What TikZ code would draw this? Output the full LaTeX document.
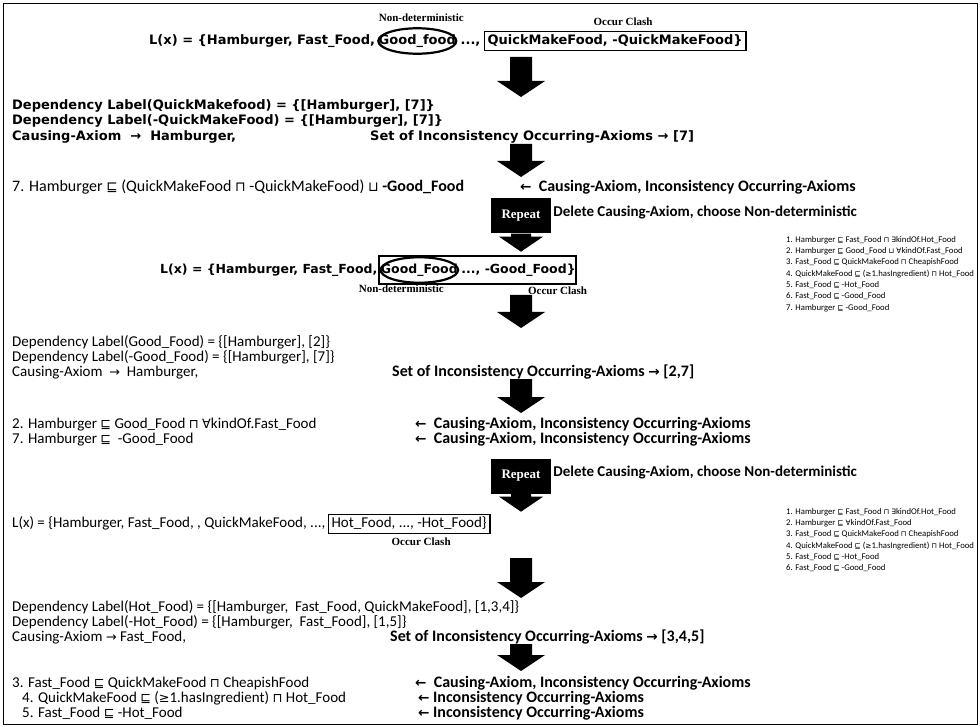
\documentclass[tikz,border=0pt]{standalone}
\usepackage{fontspec}
\setmainfont{Liberation Serif}
\newfontfamily\wfam{DejaVu Sans}
\newfontfamily\nfam{Carlito}
\newfontfamily\dvfam[Scale=0.85]{DejaVu Sans}
\usetikzlibrary{positioning}
\usetikzlibrary{shapes.geometric}
\usetikzlibrary{fit}

\newcommand{\isa}{{\dvfam ⊑}}
\newcommand{\andc}{{\dvfam ⊓}}
\newcommand{\orc}{{\dvfam ⊔}}
\newcommand{\allr}{{\dvfam ∀}}
\newcommand{\exr}{{\dvfam ∃}}
\newcommand{\gte}{{\dvfam ≥}}
\newcommand{\rto}{{\dvfam →}}
\newcommand{\lto}{{\dvfam ←}}

\begin{document}
\begin{tikzpicture}[x=1pt,y=-1pt]
\tikzset{wide/.style={font=\wfam\bfseries\fontsize{13}{15}\selectfont, anchor=west, inner sep=0pt, text height=10pt, text depth=3pt}}
\tikzset{narrow/.style={font=\nfam\fontsize{15}{15}\selectfont, anchor=west, inner sep=0pt, text height=10pt, text depth=3pt}}
\tikzset{note/.style={font=\nfam\bfseries\fontsize{16}{16}\selectfont, anchor=west, inner sep=0pt, text height=10pt, text depth=3pt}}
\tikzset{tag/.style={font=\bfseries\fontsize{11}{12}\selectfont, inner sep=0pt}}
\tikzset{clash/.style={draw, line width=1.9pt, inner xsep=3pt, inner ysep=3pt}}
\tikzset{ring/.style={ellipse, draw, line width=2.2pt, inner xsep=-11pt, inner ysep=2.5pt}}
\tikzset{repeatbox/.style={fill=black, text=white, font=\bfseries\fontsize{13}{13}\selectfont, minimum width=60pt, minimum height=35pt, inner sep=0pt}}
\tikzset{axioms/.style={font=\nfam\fontsize{8.7}{11.3}\selectfont, anchor=north west, align=left, inner sep=0pt}}

\useasboundingbox (0,0) rectangle (980,727);
\draw[line width=1pt] (3,4) rectangle (977,724);

% first label set
\node[wide] (l1a) at (149,41) {L(x) = \{Hamburger, Fast\_Food,};
\node[wide, ring, right=2pt of l1a] (l1b) {Good\_food};
\node[wide, right=3pt of l1b] (l1c) {...,};
\node[wide, clash, right=3pt of l1c] (l1d) {QuickMakeFood, -QuickMakeFood\}};
\node[tag, above=5pt of l1b, xshift=4pt] (nd1) {Non-deterministic};
\node[tag, above=5pt of l1d, xshift=8pt] (oc1) {Occur Clash};

\node[wide] (d1a) at (12,106) {Dependency Label(QuickMakefood) = \{[Hamburger], [7]\}};
\node[wide] (d1b) at (12,121) {Dependency Label(-QuickMakeFood) = \{[Hamburger], [7]\}};
\node[wide] (d1c) at (12,137) {Causing-Axiom \ → \ Hamburger,};
\node[wide] (d1d) at (370,137) {Set of Inconsistency Occurring-Axioms → [7]};

\node[narrow, font=\nfam\fontsize{16}{16}\selectfont] (n7a) at (12,188) {7. Hamburger \isa{} (QuickMakeFood \andc{} -QuickMakeFood) \orc{} {\bfseries -Good\_Food}};
\node[note] (n7b) at (520,188) {\lto{} \ Causing-Axiom, Inconsistency Occurring-Axioms};

% first repeat
\node[repeatbox] (rep1) at (521,216) {Repeat};
\node[note, font=\nfam\bfseries\fontsize{15}{15}\selectfont, right=2pt of rep1, yshift=3pt] (del1) {Delete Causing-Axiom, choose Non-deterministic};
\fill (rep1.south) ++(-10,0) -- ++(20,0) -- ++(0,3) -- ++(12,0) -- ++(-22,15) -- ++(-22,-15) -- ++(12,0) -- cycle;

% second label set
\node[wide, font=\wfam\bfseries\fontsize{12.5}{15}\selectfont] (l2a) at (160,270) {L(x) = \{Hamburger, Fast\_Food,};
\node[wide, font=\wfam\bfseries\fontsize{12.5}{15}\selectfont, ring, right=2pt of l2a] (l2b) {Good\_Food};
\node[wide, font=\wfam\bfseries\fontsize{12.5}{15}\selectfont, right=2pt of l2b] (l2c) {..., -Good\_Food\}};
\node[clash, fit=(l2b)(l2c), inner sep=0.5pt] (cb2) {};
\node[tag, below=1pt of l2b, xshift=-18pt] (nd2) {Non-deterministic};
\node[tag, below=1pt of cb2.south east, anchor=north east, xshift=10pt] (oc2) {Occur Clash};

\node[axioms] (ax1) at (786,236) {1. Hamburger \isa{} Fast\_Food \andc{} \exr{}kindOf.Hot\_Food\\
2. Hamburger \isa{} Good\_Food \orc{} \allr{}kindOf.Fast\_Food\\
3. Fast\_Food \isa{} QuickMakeFood \andc{} CheapishFood\\
4. QuickMakeFood \isa{} (\gte{}1.hasIngredient) \andc{} Hot\_Food\\
5. Fast\_Food \isa{} -Hot\_Food\\
6. Fast\_Food \isa{} -Good\_Food\\
7. Hamburger \isa{} -Good\_Food};

\node[narrow] (d2a) at (12,343) {Dependency Label(Good\_Food) = \{[Hamburger], [2]\}};
\node[narrow] (d2b) at (12,358) {Dependency Label(-Good\_Food) = \{[Hamburger], [7]\}};
\node[narrow] (d2c) at (12,373) {Causing-Axiom \ \rto{} \ Hamburger,};
\node[note] (d2d) at (392,373) {Set of Inconsistency Occurring-Axioms \rto{} [2,7]};

\node[narrow] (n2a) at (12,425) {2. Hamburger \isa{} Good\_Food \andc{} \allr{}kindOf.Fast\_Food};
\node[note] (n2b) at (415,425) {\lto{} \ Causing-Axiom, Inconsistency Occurring-Axioms};
\node[narrow] (n7c) at (12,440) {7. Hamburger \isa{} \ -Good\_Food};
\node[note] (n7d) at (415,440) {\lto{} \ Causing-Axiom, Inconsistency Occurring-Axioms};

% second repeat
\node[repeatbox] (rep2) at (521,476) {Repeat};
\node[note, font=\nfam\bfseries\fontsize{15}{15}\selectfont, right=2pt of rep2, yshift=3pt] (del2) {Delete Causing-Axiom, choose Non-deterministic};
\fill (rep2.south) ++(-10,0) -- ++(20,0) -- ++(0,3) -- ++(12,0) -- ++(-22,15) -- ++(-22,-15) -- ++(12,0) -- cycle;

% third label set
\node[narrow] (l3a) at (12,524) {L(x) = \{Hamburger, Fast\_Food, , QuickMakeFood, ...,};
\node[narrow, clash, right=2pt of l3a] (l3b) {Hot\_Food, ..., -Hot\_Food\}};
\node[tag, below=3pt of l3b, xshift=12pt] (oc3) {Occur Clash};

\node[axioms] (ax2) at (786,508) {1. Hamburger \isa{} Fast\_Food \andc{} \exr{}kindOf.Hot\_Food\\
2. Hamburger \isa{} \allr{}kindOf.Fast\_Food\\
3. Fast\_Food \isa{} QuickMakeFood \andc{} CheapishFood\\
4. QuickMakeFood \isa{} (\gte{}1.hasIngredient) \andc{} Hot\_Food\\
5. Fast\_Food \isa{} -Hot\_Food\\
6. Fast\_Food \isa{} -Good\_Food};

\node[narrow] (d3a) at (12,608) {Dependency Label(Hot\_Food) = \{[Hamburger, \ Fast\_Food, QuickMakeFood], [1,3,4]\}};
\node[narrow] (d3b) at (12,623) {Dependency Label(-Hot\_Food) = \{[Hamburger, \ Fast\_Food], [1,5]\}};
\node[narrow] (d3c) at (12,638) {Causing-Axiom \rto{} Fast\_Food,};
\node[note] (d3d) at (390,638) {Set of Inconsistency Occurring-Axioms \rto{} [3,4,5]};

\node[narrow] (n3a) at (12,684) {3. Fast\_Food \isa{} QuickMakeFood \andc{} CheapishFood};
\node[note] (n3b) at (415,684) {\lto{} \ Causing-Axiom, Inconsistency Occurring-Axioms};
\node[narrow] (n4a) at (22,699) {4. QuickMakeFood \isa{} (\gte{}1.hasIngredient) \andc{} Hot\_Food};
\node[note] (n4b) at (418,699) {\lto{} Inconsistency Occurring-Axioms};
\node[narrow] (n5a) at (22,714) {5. Fast\_Food \isa{} -Hot\_Food};
\node[note] (n5b) at (418,714) {\lto{} Inconsistency Occurring-Axioms};

% block arrows between the stages
\foreach \ya/\yb in {57/97, 144/177, 295/328, 379/413, 558/598, 644/671}
  \fill (510,\ya) -- (532,\ya) -- (532,\yb-16) -- (545,\yb-16) -- (521,\yb) -- (497,\yb-16) -- (510,\yb-16) -- cycle;
\end{tikzpicture}
\end{document}
